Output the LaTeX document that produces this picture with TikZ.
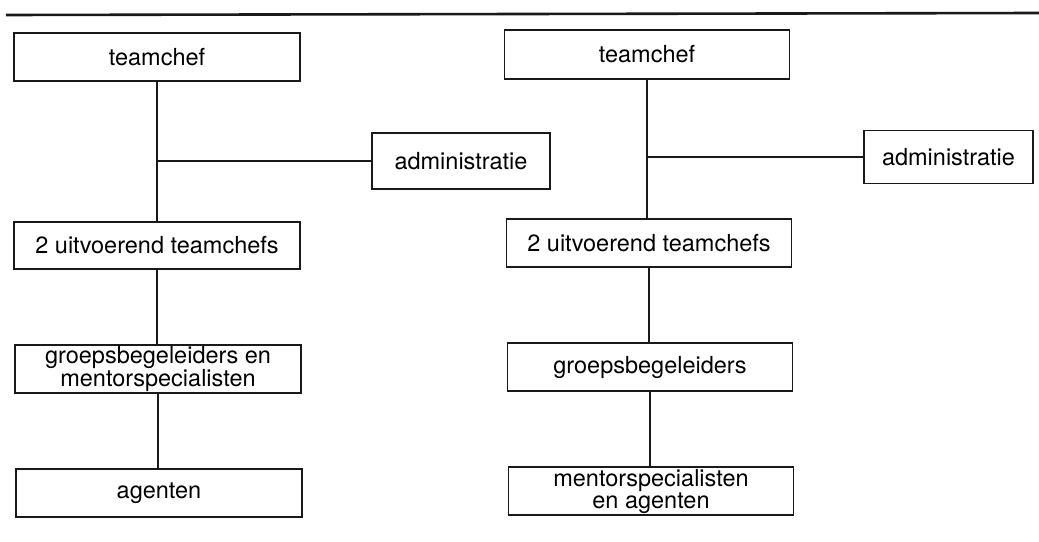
\documentclass[tikz,border=0pt]{standalone}
\usepackage{fontspec}
\setmainfont{TeX Gyre Heros}
\begin{document}
\begin{tikzpicture}[x=1pt,y=-1pt,
  unit/.style={draw=black!90, line width=1.8pt, rectangle, inner sep=0pt,
    align=center, font=\fontsize{23.5}{22}\selectfont,
    minimum width=286pt, minimum height=48pt},
  staff/.style={unit, minimum width=#1},
  link/.style={draw=black!90, line width=1.8pt}]
\useasboundingbox (0,0) rectangle (1039,541);

% heading rule
\coordinate (ruleL) at (6,15);
\coordinate (ruleR) at (1039,13);
\draw[line width=2.6pt, black!90] (ruleL) -- (ruleR);

% left organisation
\node[unit] (lteam)  at (157,57)    {teamchef};
\node[staff=178pt, minimum height=56pt] (ladmin) at (461,161) {administratie};
\node[unit, minimum height=47pt] (lexec)  at (157,245.5) {2 uitvoerend teamchefs};
\node[unit] (lgroup) at (158,369)   {groepsbegeleiders en\\mentorspecialisten};
\node[unit] (lagent) at (159,493)   {agenten};

\draw[link] (lteam.south) -- (lteam.south |- lexec.north);
\draw[link] (ladmin.west) -- (lteam.south |- ladmin.west);
\draw[link] (lexec.south) -- (lexec.south |- lgroup.north);
\draw[link] (lgroup.south) -- (lgroup.south |- lagent.north);

% right organisation
\node[unit, minimum width=285pt, minimum height=49pt] (rteam) at (647,54.5) {teamchef};
\node[staff=169pt, minimum height=53pt] (radmin) at (948.5,157) {administratie};
\node[unit, minimum width=285pt] (rexec)  at (649,243) {2 uitvoerend teamchefs};
\node[unit, minimum width=285pt] (rgroup) at (650,367) {groepsbegeleiders};
\node[unit, minimum width=285pt] (rment)  at (651,491) {mentorspecialisten\\en agenten};

\draw[link] (rteam.south) -- (rteam.south |- rexec.north);
\draw[link] (radmin.west) -- (rteam.south |- radmin.west);
\draw[link] (rexec.south) -- (rexec.south |- rgroup.north);
\draw[link] (rgroup.south) -- (rgroup.south |- rment.north);
\end{tikzpicture}
\end{document}
